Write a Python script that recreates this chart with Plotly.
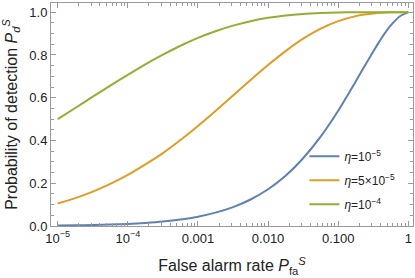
import plotly.graph_objects as go

# False alarm rate (log10 positions)
log_pfa = [-5, -4.75, -4.5, -4.25, -4, -3.75, -3.5, -3.25, -3, -2.75, -2.5, -2.25,
           -2, -1.75, -1.5, -1.25, -1, -0.75, -0.625, -0.5, -0.375, -0.25, -0.125, 0]
pfa = [10 ** v for v in log_pfa]

pd_eta_1e5 = [0.002, 0.003, 0.0044, 0.0065, 0.0097, 0.0143, 0.0207, 0.0302, 0.0436, 0.0624,
              0.0882, 0.124, 0.172, 0.235, 0.317, 0.418, 0.539, 0.676, 0.747, 0.816, 0.882,
              0.938, 0.980, 1.0]
pd_eta_5e5 = [0.105, 0.1305, 0.161, 0.197, 0.239, 0.288, 0.341, 0.402, 0.468, 0.538, 0.610,
              0.683, 0.753, 0.818, 0.876, 0.923, 0.958, 0.9816, 0.989, 0.9943, 0.9975,
              0.9992, 0.9999, 1.0]
pd_eta_1e4 = [0.5, 0.552, 0.605, 0.657, 0.707, 0.756, 0.801, 0.843, 0.880, 0.911, 0.937,
              0.958, 0.974, 0.985, 0.992, 0.996, 0.9986, 0.9996, 0.9998, 0.9999, 1.0,
              1.0, 1.0, 1.0]

series_names = ["<i>η</i>=10<sup>−5</sup>", "<i>η</i>=5×10<sup>−5</sup>", "<i>η</i>=10<sup>−4</sup>"]
series_values = [pd_eta_1e5, pd_eta_5e5, pd_eta_1e4]
colors = ["#5E81B5", "#E19C24", "#8FB032"]

x_tickvals = [1e-5, 1e-4, 1e-3, 1e-2, 1e-1, 1]
x_ticktext = ["10<sup>−5</sup>", "10<sup>−4</sup>", "0.001", "0.010", "0.100", "1"]
y_tickvals = [0, 0.2, 0.4, 0.6, 0.8, 1.0]
y_ticktext = ["0.0", "0.2", "0.4", "0.6", "0.8", "1.0"]

x_minor = [m * 10 ** e for e in range(-5, 0) for m in range(2, 10)]
y_minor = [i * 0.05 for i in range(0, 21)]

fig = go.Figure()
for i, (name, vals, c) in enumerate(zip(series_names, series_values, colors)):
    fig.add_trace(go.Scatter(x=pfa, y=vals, mode="lines", name=name, legendgroup=f"g{i}",
                             line=dict(color=c, width=2, shape="spline", smoothing=0.6)))

frame = "#9a9a9a"
fig.update_layout(
    width=415, height=278,
    margin=dict(l=51, r=2, t=3, b=52),
    paper_bgcolor="white", plot_bgcolor="white",
    font=dict(family="Liberation Sans, Arial, sans-serif", size=13, color="#222222"),
    showlegend=True,
    legend=dict(x=0.70, y=0.205, xanchor="left", yanchor="middle",
                bgcolor="rgba(0,0,0,0)", font=dict(size=12),
                tracegroupgap=5, itemwidth=30),
)
fig.update_xaxes(
    type="log", range=[-5.096, 0.067], automargin=False,
    tickmode="array", tickvals=x_tickvals, ticktext=x_ticktext,
    ticklabeloverflow="allow",
    ticks="inside", ticklen=5, tickcolor=frame, tickwidth=1,
    showline=True, linecolor=frame, linewidth=1, mirror="allticks",
    showgrid=False, zeroline=False,
    minor=dict(tickmode="array", tickvals=x_minor, ticks="inside", ticklen=3,
               tickcolor=frame, showgrid=False),
    title=dict(text="False alarm rate <i>P</i><sub>fa</sub><sup><i>S</i></sup>", standoff=15),
)
fig.update_yaxes(
    range=[0, 1.043], automargin=False,
    tickmode="array", tickvals=y_tickvals, ticktext=y_ticktext,
    ticks="inside", ticklen=5, tickcolor=frame, tickwidth=1,
    showline=True, linecolor=frame, linewidth=1, mirror="allticks",
    showgrid=False, zeroline=False,
    minor=dict(tickmode="array", tickvals=y_minor, ticks="inside", ticklen=3,
               tickcolor=frame, showgrid=False),
    title=dict(text="Probability of detection <i>P</i><sub><i>d</i></sub><sup><i>S</i></sup>",
               standoff=11),
)

fig.write_html("out.html", config={"displayModeBar": False},
               post_script="document.body.style.margin='0';")
